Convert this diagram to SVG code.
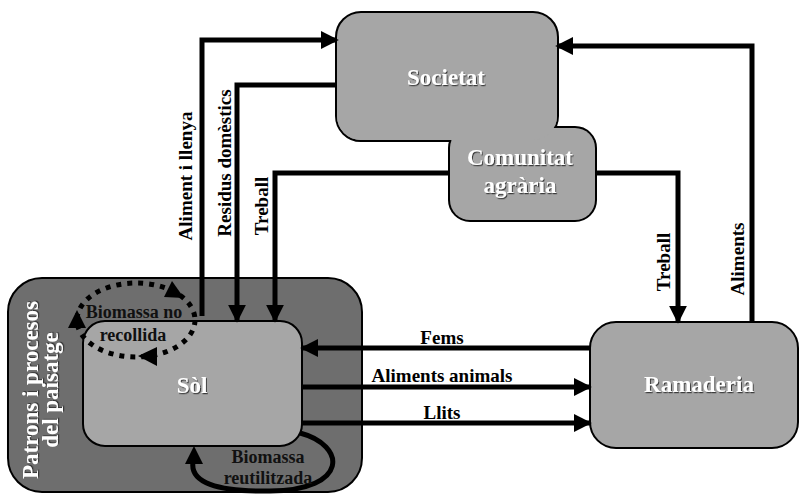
<svg xmlns="http://www.w3.org/2000/svg" width="802" height="494" viewBox="0 0 802 494">
<style>
.box{fill:#a6a6a6;stroke:#000;stroke-width:2}
.ubox{fill:#a6a6a6;stroke:#000;stroke-width:4;paint-order:stroke}
.ttl{font-family:"Liberation Serif",serif;font-weight:bold;font-size:23px;fill:#fff;text-anchor:middle;filter:url(#sh)}
.lbl{font-family:"Liberation Serif",serif;font-weight:bold;font-size:19px;fill:#000;text-anchor:middle}
.bio{font-size:18px;fill:#111}
.con{fill:none;stroke:#000;stroke-width:5}
</style>
<defs>
<marker id="ah" viewBox="0 0 10 10" refX="9" refY="5" markerUnits="userSpaceOnUse" markerWidth="18" markerHeight="18" orient="auto">
<path d="M0,0 L10,5 L0,10 z" fill="#000"/>
</marker>
<filter id="sh" x="-10%" y="-20%" width="130%" height="160%">
<feDropShadow dx="1" dy="1.2" stdDeviation="0.6" flood-color="#333" flood-opacity="0.9"/>
</filter>
<clipPath id="ov"><rect x="330" y="110" width="240" height="40"/></clipPath>
</defs>
<rect width="802" height="494" fill="#fff"/>

<g id="paisatge">
<rect x="8" y="278" width="354" height="214" rx="34" fill="#6e6e6e" stroke="#000" stroke-width="2"/>
<text class="ttl" transform="translate(38,390) rotate(-90)">Patrons i procesos</text>
<text class="ttl" transform="translate(58,390) rotate(-90)">del paisatge</text>
</g>

<g id="sol">
<rect class="box" x="83" y="321" width="219" height="125" rx="22"/>
<text class="ttl" x="192" y="393">Sòl</text>
</g>

<g id="societat">
<rect class="ubox" x="337" y="13" width="220" height="127" rx="24"/>
<text class="ttl" x="446" y="85">Societat</text>
</g>

<g id="comunitat">
<rect class="ubox" x="450" y="128" width="145" height="92" rx="20"/>
<rect x="337" y="13" width="220" height="127" rx="24" fill="#a6a6a6" clip-path="url(#ov)"/>
<text class="ttl" x="520" y="165">Comunitat</text>
<text class="ttl" x="520" y="193">agrària</text>
</g>

<g id="ramaderia">
<rect class="box" x="590" y="322" width="208" height="126" rx="26"/>
<text class="ttl" x="699" y="392">Ramaderia</text>
</g>

<g id="connectors">
<path class="con" d="M202,316 V40 H337" marker-end="url(#ah)"/>
<path class="con" d="M337,85 H237 V321" marker-end="url(#ah)"/>
<path class="con" d="M450,173 H275 V321" marker-end="url(#ah)"/>
<path class="con" d="M595,173 H678 V322" marker-end="url(#ah)"/>
<path class="con" d="M752,322 V46 H557" marker-end="url(#ah)"/>
<path class="con" d="M590,348 H302" marker-end="url(#ah)"/>
<path class="con" d="M302,387 H590" marker-end="url(#ah)"/>
<path class="con" d="M302,423 H590" marker-end="url(#ah)"/>
<ellipse cx="136" cy="320" rx="59" ry="37" fill="none" stroke="#000" stroke-width="5" stroke-dasharray="5 6"/>
<polygon points="184,298 164,297 172,281" fill="#000"/>
<polygon points="77,310 68,328 86,328" fill="#000"/>
<polygon points="138,356 157,347 157,366" fill="#000"/>
<path d="M300,433 C346,445 350,490 270,491 C216,492 190,482 193,462" fill="none" stroke="#000" stroke-width="5"/>
<polygon points="194,446 185,464 203,464" fill="#000"/>
</g>

<g id="labels">
<text class="lbl" transform="translate(192,176) rotate(-90)">Aliment i llenya</text>
<text class="lbl" transform="translate(231,163) rotate(-90)">Residus domèstics</text>
<text class="lbl" transform="translate(268,206) rotate(-90)">Treball</text>
<text class="lbl" transform="translate(670,262) rotate(-90)">Treball</text>
<text class="lbl" transform="translate(744,259) rotate(-90)">Aliments</text>
<text class="lbl" x="442" y="344">Fems</text>
<text class="lbl" x="442" y="382">Aliments animals</text>
<text class="lbl" x="442" y="419">Llits</text>
<text class="lbl bio" x="134" y="318">Biomassa no</text>
<text class="lbl bio" x="133" y="341">recollida</text>
<text class="lbl bio" x="268" y="463">Biomassa</text>
<text class="lbl bio" x="268" y="484">reutilitzada</text>
</g>
</svg>
